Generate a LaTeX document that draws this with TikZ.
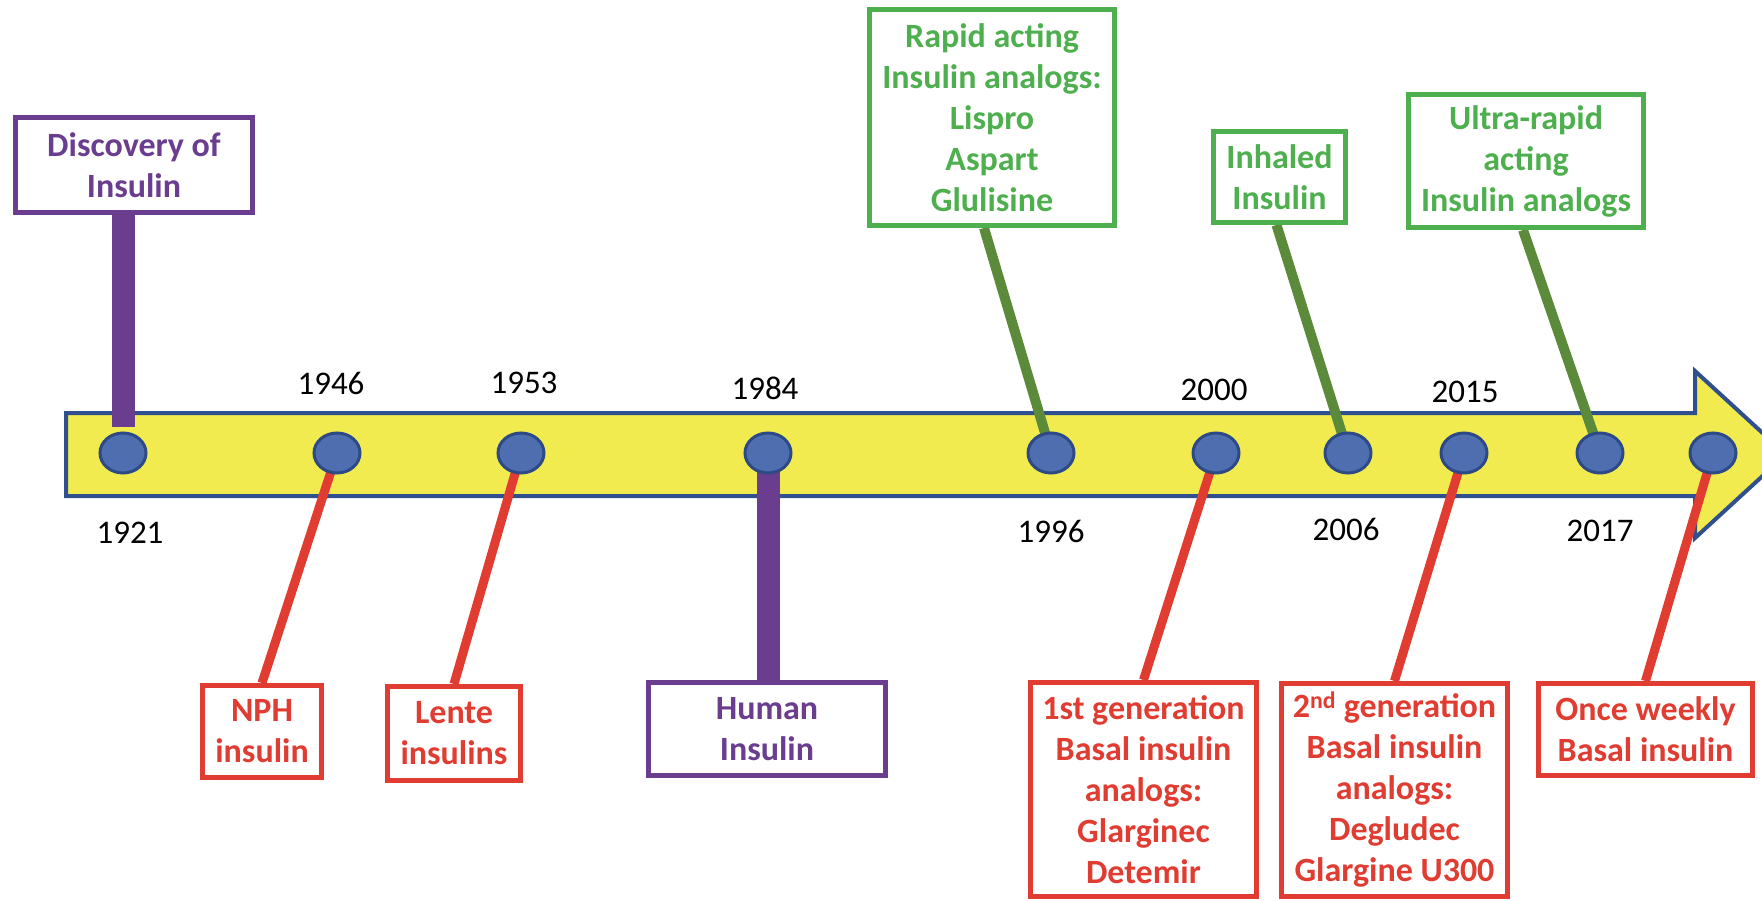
\documentclass[tikz,border=0pt]{standalone}
\usepackage{fontspec}
\setmainfont{Carlito}
\usetikzlibrary{shapes.geometric}
\definecolor{tlyellow}{RGB}{242,235,80}
\definecolor{tledge}{RGB}{47,79,143}
\definecolor{dotfill}{RGB}{79,110,176}
\definecolor{dotedge}{RGB}{46,74,134}
\definecolor{tlpurple}{RGB}{106,61,142}
\definecolor{tlred}{RGB}{224,60,49}
\definecolor{tlgreen}{RGB}{78,175,78}
\definecolor{tlolive}{RGB}{91,138,58}
\pgfdeclarelayer{bg}
\pgfdeclarelayer{links}
\pgfsetlayers{bg,links,main}
\begin{document}
\begin{tikzpicture}[x=1pt,y=-1pt,
  lbl/.style={font=\fontsize{34}{41}\selectfont\bfseries, align=center,
    line width=5pt, fill=white, inner sep=0pt, rectangle},
  purplebox/.style={lbl, draw=tlpurple, text=tlpurple},
  redbox/.style={lbl, draw=tlred, text=tlred},
  greenbox/.style={lbl, draw=tlgreen, text=tlgreen},
  dot/.style={ellipse, minimum width=46pt, minimum height=40pt, inner sep=0pt,
    fill=dotfill, draw=dotedge, line width=3pt},
  year/.style={font=\fontsize{33}{38}\selectfont, inner sep=0pt, text=black},
  redlink/.style={draw=tlred, line width=9pt},
  greenlink/.style={draw=tlolive, line width=10pt},
  stem/.style={draw=tlpurple, line width=23pt},
]
\useasboundingbox (0,0) rectangle (1762,901);

% timeline arrow
\begin{pgfonlayer}{bg}
  \draw[fill=tlyellow, draw=tledge, line width=4pt, line join=miter]
    (66,413) -- (1695,413) -- (1695,371) -- (1786,454.5) -- (1695,538)
    -- (1695,496) -- (66,496) -- cycle;
\end{pgfonlayer}

% events on the timeline
\node[dot] (d1921) at (123,453) {};
\node[dot] (d1946) at (337,453) {};
\node[dot] (d1953) at (521,453) {};
\node[dot] (d1984) at (768,453) {};
\node[dot] (d1996) at (1051,453) {};
\node[dot] (d2000) at (1216,453) {};
\node[dot] (d2006) at (1348,453) {};
\node[dot] (d2015) at (1464,453) {};
\node[dot] (d2017) at (1600,453) {};
\node[dot] (dnow)  at (1713,453) {};

% years
\node[year] (y1921) at (130,533) {1921};
\node[year] (y1946) at (331,383) {1946};
\node[year] (y1953) at (524,383) {1953};
\node[year] (y1984) at (765,388) {1984};
\node[year] (y1996) at (1051,531) {1996};
\node[year] (y2000) at (1214,390) {2000};
\node[year] (y2006) at (1346,529) {2006};
\node[year] (y2015) at (1465,392) {2015};
\node[year] (y2017) at (1600,531) {2017};

% purple milestones
\node[purplebox, minimum width=237pt, minimum height=95pt] (disc) at (134,165)
  {Discovery of\\Insulin};
\node[purplebox, minimum width=237pt, minimum height=93pt] (human) at (767,729)
  {Human\\Insulin};

% red boxes below the axis
\node[redbox, minimum width=119pt, minimum height=92pt] (nph) at (262,731.5)
  {NPH\\insulin};
\node[redbox, minimum width=133pt, minimum height=94pt] (lente) at (454,733.5)
  {Lente\\insulins};
\node[redbox, minimum width=226pt, minimum height=214pt] (gen1) at (1143.5,789.5)
  {1st generation\\Basal insulin\\analogs:\\Glarginec\\Detemir};
\node[redbox, minimum width=226pt, minimum height=213pt] (gen2) at (1394.5,790)
  {2\textsuperscript{nd} generation\\Basal insulin\\analogs:\\Degludec\\Glargine U300};
\node[redbox, minimum width=214pt, minimum height=92pt] (weekly) at (1645.5,729.5)
  {Once weekly\\Basal insulin};

% green boxes above the axis
\node[greenbox, minimum width=245pt, minimum height=216pt] (rapid) at (992,117.5)
  {Rapid acting\\Insulin analogs:\\Lispro\\Aspart\\Glulisine};
\node[greenbox, minimum width=132pt, minimum height=91pt] (inhaled) at (1279.5,177)
  {Inhaled\\Insulin};
\node[greenbox, minimum width=235pt, minimum height=133pt] (ultra) at (1526,161)
  {Ultra-rapid\\acting\\Insulin analogs};

\coordinate (stemend) at (123,427);

% connectors
\begin{pgfonlayer}{links}
  \draw[stem] (disc.south -| d1921) -- (stemend);
  \draw[stem] (d1984.center) -- (human.north -| d1984);
  \draw[redlink] (d1946.center) -- (nph.north);
  \draw[redlink] (d1953.center) -- (lente.north);
  \draw[redlink] (d2000.center) -- (gen1.north);
  \draw[redlink] (d2015.center) -- (gen2.north);
  \draw[redlink] (dnow.center) -- (weekly.north);
  \draw[greenlink] (d1996.center) -- ([xshift=-8pt]rapid.south);
  \draw[greenlink] (d2006.center) -- ([xshift=-3pt]inhaled.south);
  \draw[greenlink] (d2017.center) -- ([xshift=-3pt]ultra.south);
\end{pgfonlayer}
\end{tikzpicture}
\end{document}
